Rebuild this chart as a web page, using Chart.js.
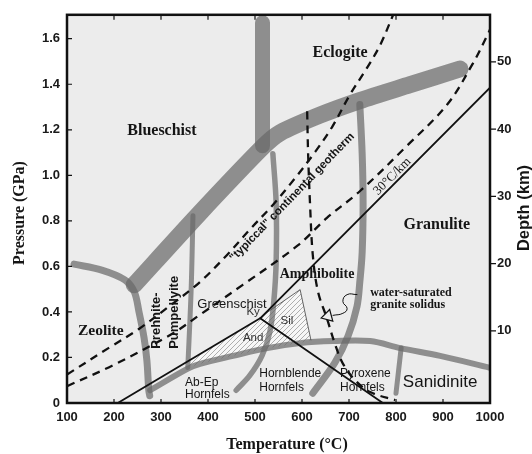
<!DOCTYPE html>
<html>
<head>
<meta charset="utf-8">
<script src="https://cdn.jsdelivr.net/npm/chart.js@4.4.0/dist/chart.umd.min.js"></script>
<style>
  html, body { margin: 0; padding: 0; background: #fff; }
  #wrap { width: 532px; height: 454px; }
</style>
</head>
<body>
<div id="wrap"><canvas id="facies" width="532" height="454"></canvas></div>
<script>
// axis ticks
var tempTicks = [100, 200, 300, 400, 500, 600, 700, 800, 900, 1000];
var pressTicks = [0, 0.2, 0.4, 0.6, 0.8, 1.0, 1.2, 1.4, 1.6];
var depthTicks = [10, 20, 30, 40, 50];

// facies boundaries, each point is [T (°C), P (GPa)]
var zeoliteBoundary = [[115, 0.61], [174, 0.584], [223, 0.541], [243, 0.489], [253, 0.402], [264, 0.286], [270, 0.186], [274, 0.056], [276, 0.032]];
var blueschistBand = [[243, 0.519], [377, 0.822], [517, 1.125], [553, 1.186], [638, 1.264], [723, 1.328], [830, 1.398], [936, 1.467]];
var eclogiteBand = [[516, 1.67], [516, 1.13]];
var prehniteLine = [[368, 0.822], [364, 0.489], [357, 0.156]];
var greenschistLine = [[538, 1.095], [545, 0.878], [545, 0.619], [540, 0.446], [532, 0.316], [515, 0.208], [489, 0.121], [460, 0.056]];
var granuliteLine = [[723, 1.311], [728, 1.095], [730, 0.878], [728, 0.662], [723, 0.532], [717, 0.424], [698, 0.294], [670, 0.177], [623, 0.043]];
var hornfelsCurve = [[277, 0.056], [357, 0.151], [383, 0.172], [453, 0.207], [526, 0.241], [596, 0.263], [666, 0.272], [745, 0.272], [809, 0.241], [894, 0.207], [1000, 0.155]];
var sanidiniteLine = [[811, 0.242], [800, 0.043]];

// aluminosilicate lines
var kyaniteLine = [[208, 0], [511, 0.372], [1000, 1.385]];
var andSilLine = [[511, 0.372], [772, 0]];
var silOutline = [[519, 0.388], [596, 0.498], [619, 0.277]];
var hatchArea = [[359, 0.182], [511, 0.372], [519, 0.388], [596, 0.498], [619, 0.277], [596, 0.263], [526, 0.241], [453, 0.207], [383, 0.172], [359, 0.155], [359, 0.182]];

// geotherms and solidus (dashed)
var continentalGeotherm = [[100, 0.125], [189, 0.242], [253, 0.325], [317, 0.424], [381, 0.528], [440, 0.649], [489, 0.762], [538, 0.870], [585, 0.987], [628, 1.103], [664, 1.212], [702, 1.354], [738, 1.471], [766, 1.571], [794, 1.705]];
var lowerGeotherm = [[100, 0.074], [196, 0.164], [323, 0.303], [381, 0.385], [474, 0.519], [591, 0.692], [653, 0.813], [723, 0.930], [823, 1.129], [909, 1.311], [964, 1.493], [994, 1.614], [1000, 1.64]];
var graniteSolidus = [[611, 1.281], [613, 1.095], [617, 0.878], [623, 0.649], [634, 0.489], [653, 0.372], [670, 0.260], [687, 0.173], [713, 0.100], [745, 0.048], [798, 0.013]];

// pointer from label to solidus
var solidusPointer = [[717, 0.476], [696, 0.476], [687, 0.446], [696, 0.415], [687, 0.394], [666, 0.385]];
var pointerHead = [[655, 0.381]];

// field names
var fieldNames = ['Blueschist', 'Eclogite', 'Granulite', 'Amphibolite', 'Zeolite'];
var fieldSpots = [[302, 1.194], [681, 1.540], [887, 0.783], [632, 0.567], [172, 0.316]];

var serif = "'Liberation Serif', 'Times New Roman', serif";
var sans = "'Liberation Sans', Arial, sans-serif";

// label placements: text, anchor [T, P], font, align, rotation
var labels = [
    { text: fieldNames[0], at: fieldSpots[0], font: 'bold 16px ' + serif },
    { text: fieldNames[1], at: fieldSpots[1], font: 'bold 16px ' + serif },
    { text: fieldNames[2], at: fieldSpots[2], font: 'bold 16px ' + serif },
    { text: fieldNames[3], at: fieldSpots[3], font: 'bold 14px ' + serif },
    { text: fieldNames[4], at: fieldSpots[4], font: 'bold 15.5px ' + serif },
    { text: 'Greenschist', at: [451, 0.433], font: '13px ' + sans },
    { text: 'Prehnite-', at: [291, 0.238], font: 'bold 13px ' + sans, align: 'left', rot: -90 },
    { text: 'Pumpellyite', at: [328, 0.238], font: 'bold 13px ' + sans, align: 'left', rot: -90 },
    { text: 'Ky', at: [496, 0.402], font: '11.5px ' + sans, color: '#333' },
    { text: 'Sil', at: [568, 0.359], font: '11.5px ' + sans, color: '#333' },
    { text: 'And', at: [496, 0.286], font: '11.5px ' + sans, color: '#333' },
    { text: 'Ab-Ep', at: [351, 0.091], font: '12px ' + sans, align: 'left' },
    { text: 'Hornfels', at: [351, 0.035], font: '12px ' + sans, align: 'left' },
    { text: 'Hornblende', at: [509, 0.130], font: '12px ' + sans, align: 'left' },
    { text: 'Hornfels', at: [509, 0.069], font: '12px ' + sans, align: 'left' },
    { text: 'Pyroxene', at: [681, 0.130], font: '12px ' + sans, align: 'left' },
    { text: 'Hornfels', at: [681, 0.069], font: '12px ' + sans, align: 'left' },
    { text: 'Sanidinite', at: [894, 0.091], font: '17px ' + sans },
    { text: 'water-saturated', at: [745, 0.485], font: 'bold 12px ' + serif, align: 'left' },
    { text: 'granite solidus', at: [745, 0.433], font: 'bold 12px ' + serif, align: 'left' },
    { text: '"typiccal" continental geotherm', at: [579, 0.904], font: 'bold 11.5px ' + sans, rot: -46 },
    { text: '30°C/km', at: [792, 0.995], font: '13px ' + serif, rot: -45 }
];

function pts(arr) {
    return arr.map(function(p) { return { x: p[0], y: p[1] }; });
}

var grey = 'rgba(105, 105, 105, 0.72)';

function curve(data, width, color, order, extra) {
    var ds = {
        data: pts(data),
        showLine: true,
        borderColor: color,
        borderWidth: width,
        borderCapStyle: 'round',
        borderJoinStyle: 'round',
        pointRadius: 0,
        tension: 0.35,
        fill: false,
        clip: 0,
        order: order
    };
    return Object.assign(ds, extra || {});
}

// hatch pattern for the aluminosilicate field
var hp = document.createElement('canvas');
hp.width = 5;
hp.height = 5;
var hx = hp.getContext('2d');
hx.fillStyle = '#f7f7f7';
hx.fillRect(0, 0, 5, 5);
hx.strokeStyle = '#9a9a9a';
hx.lineWidth = 0.8;
hx.beginPath();
hx.moveTo(0, 5); hx.lineTo(5, 0);
hx.moveTo(-1, 1); hx.lineTo(1, -1);
hx.moveTo(4, 6); hx.lineTo(6, 4);
hx.stroke();
var hatch = hx.createPattern(hp, 'repeat');

var datasets = [
    curve(solidusPointer, 1, '#111', 0, { tension: 0.5 }),
    {
        data: pts(pointerHead), showLine: false, pointStyle: 'triangle', pointRadius: 7,
        pointRotation: -105, pointBackgroundColor: '#eeeeee', pointBorderColor: '#111',
        pointBorderWidth: 1.2, clip: 0, order: 0
    },
    curve(kyaniteLine, 1.8, '#111', 1, { tension: 0 }),
    curve(andSilLine, 1.8, '#111', 1, { tension: 0 }),
    curve(silOutline, 0.9, '#555', 1, { tension: 0 }),
    curve(continentalGeotherm, 2.3, '#111', 2, { borderDash: [8, 6], borderCapStyle: 'butt' }),
    curve(lowerGeotherm, 2.3, '#111', 2, { borderDash: [8, 6], borderCapStyle: 'butt' }),
    curve(graniteSolidus, 2.3, '#111', 2, { borderDash: [8, 6], borderCapStyle: 'butt' }),
    curve(prehniteLine, 5, grey, 6),
    curve(greenschistLine, 5.5, grey, 6),
    curve(granuliteLine, 7, grey, 6),
    curve(hornfelsCurve, 6, grey, 6),
    curve(sanidiniteLine, 5, grey, 6),
    curve(zeoliteBoundary, 7, grey, 6),
    curve(blueschistBand, 17, grey, 7, { tension: 0.25 }),
    curve(eclogiteBand, 15, grey, 8, { tension: 0 }),
    {
        data: pts(hatchArea), showLine: true, borderWidth: 0, borderColor: 'rgba(0,0,0,0)',
        backgroundColor: hatch, fill: 'shape', pointRadius: 0, tension: 0, clip: 0, order: 9
    }
];

var faciesPlugin = {
    id: 'facies',
    beforeDraw: function(chart) {
        var ctx = chart.ctx, a = chart.chartArea;
        ctx.save();
        ctx.fillStyle = '#ffffff';
        ctx.fillRect(0, 0, chart.width, chart.height);
        ctx.fillStyle = '#ececec';
        ctx.fillRect(a.left, a.top, a.right - a.left, a.bottom - a.top);
        ctx.restore();
    },
    afterDatasetsDraw: function(chart) {
        var ctx = chart.ctx, a = chart.chartArea;
        var sx = chart.scales.x, sy = chart.scales.y, sd = chart.scales.y2;

        labels.forEach(function(l) {
            ctx.save();
            ctx.translate(sx.getPixelForValue(l.at[0]), sy.getPixelForValue(l.at[1]));
            ctx.rotate((l.rot || 0) * Math.PI / 180);
            ctx.font = l.font;
            ctx.fillStyle = l.color || '#151515';
            ctx.textAlign = l.align || 'center';
            ctx.textBaseline = 'middle';
            ctx.fillText(l.text, 0, 0);
            ctx.restore();
        });

        // tick marks
        ctx.save();
        ctx.strokeStyle = '#111';
        ctx.lineWidth = 1.2;
        ctx.beginPath();
        pressTicks.forEach(function(v) {
            var y = sy.getPixelForValue(v);
            ctx.moveTo(a.left, y); ctx.lineTo(a.left + 5, y);
        });
        tempTicks.forEach(function(v) {
            var x = sx.getPixelForValue(v);
            ctx.moveTo(x, a.top); ctx.lineTo(x, a.top + 5);
            ctx.moveTo(x, a.bottom); ctx.lineTo(x, a.bottom - 4);
        });
        depthTicks.forEach(function(v) {
            var y = sd.getPixelForValue(v);
            ctx.moveTo(a.right, y); ctx.lineTo(a.right + 6, y);
        });
        ctx.stroke();

        // frame
        ctx.lineWidth = 2.5;
        ctx.strokeRect(a.left, a.top, a.right - a.left, a.bottom - a.top);

        // axis titles
        ctx.fillStyle = '#151515';
        ctx.textAlign = 'center';
        ctx.textBaseline = 'middle';
        ctx.font = 'bold 16px ' + serif;
        ctx.fillText('Temperature (°C)', 287, 445);
        ctx.save();
        ctx.translate(20, 213);
        ctx.rotate(-Math.PI / 2);
        ctx.fillText('Pressure (GPa)', 0, 0);
        ctx.restore();
        ctx.save();
        ctx.translate(524, 208);
        ctx.rotate(-Math.PI / 2);
        ctx.font = 'bold 16.5px ' + sans;
        ctx.fillText('Depth (km)', 0, 0);
        ctx.restore();
        ctx.restore();
    }
};

var tickFont = { family: sans, size: 13, weight: 'bold' };

var chart = new Chart(document.getElementById('facies').getContext('2d'), {
    type: 'scatter',
    data: { datasets: datasets },
    options: {
        responsive: false,
        animation: false,
        devicePixelRatio: 1,
        layout: { padding: { top: 9, left: 0, right: 0, bottom: 0 } },
        plugins: { legend: { display: false }, tooltip: { enabled: false } },
        scales: {
            x: {
                type: 'linear', position: 'bottom', min: 100, max: 1000,
                afterBuildTicks: function(s) { s.ticks = tempTicks.map(function(v) { return { value: v }; }); },
                afterFit: function(s) { s.height = 51; },
                grid: { display: false, drawTicks: false },
                border: { display: false },
                ticks: {
                    font: tickFont, color: '#1a1a1a', padding: 7, maxRotation: 0, autoSkip: false,
                    callback: function(v) { return String(v); }
                }
            },
            y: {
                type: 'linear', position: 'left', min: 0, max: 1.705,
                afterBuildTicks: function(s) { s.ticks = pressTicks.map(function(v) { return { value: v }; }); },
                afterFit: function(s) { s.width = 67; },
                grid: { display: false, drawTicks: false },
                border: { display: false },
                ticks: {
                    font: tickFont, color: '#1a1a1a', padding: 7, autoSkip: false,
                    callback: function(v) { return v === 0 ? '0' : v.toFixed(1); }
                }
            },
            y2: {
                type: 'linear', position: 'right', min: -0.73, max: 57,
                afterBuildTicks: function(s) { s.ticks = depthTicks.map(function(v) { return { value: v }; }); },
                afterFit: function(s) { s.width = 42; },
                grid: { display: false, drawTicks: false },
                border: { display: false },
                ticks: { font: tickFont, color: '#1a1a1a', padding: 7, autoSkip: false }
            }
        }
    },
    plugins: [faciesPlugin]
});
</script>
</body>
</html>
